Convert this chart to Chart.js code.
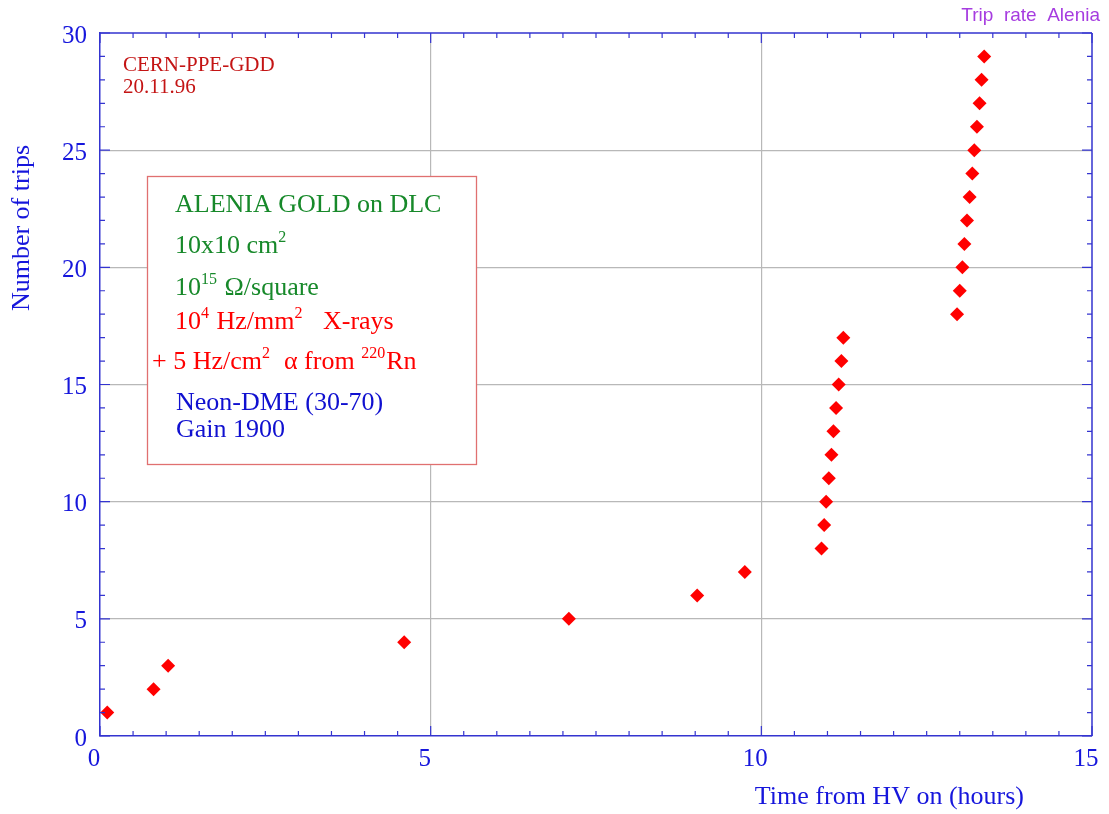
<!DOCTYPE html>
<html>
<head>
<meta charset="utf-8">
<script src="https://cdn.jsdelivr.net/npm/chart.js@4/dist/chart.umd.min.js"></script>
<style>
  html, body { margin: 0; padding: 0; background: #fff; }
  #wrap { width: 1109px; height: 814px; }
</style>
</head>
<body>
<div id="wrap"><canvas id="trips" width="1109" height="814"></canvas></div>
<script>
// time from HV on (hours) and cumulative number of trips
const horas = [0.11, 0.81, 1.03, 4.60, 7.09, 9.03, 9.75,
  10.91, 10.95, 10.98, 11.02, 11.06, 11.09, 11.13, 11.17, 11.21, 11.24,
  12.96, 13.00, 13.04, 13.07, 13.11, 13.15, 13.19, 13.22, 13.26, 13.30, 13.33, 13.37];
const disparos = [1, 2, 3, 4, 5, 6, 7,
  8, 9, 10, 11, 12, 13, 14, 15, 16, 17,
  18, 19, 20, 21, 22, 23, 24, 25, 26, 27, 28, 29];

const ticksX = [0, 5, 10, 15];
const ticksY = [0, 5, 10, 15, 20, 25, 30];

const serif = "'Liberation Serif', 'Times New Roman', serif";
const azul = '#1616dc';
const ejeColor = '#3434d0';
const gris = '#b8b8b8';

// text lines of the info box: [text, superscript?]
const lineasCaja = [
  { x: 175, y: 212, color: '#17892a', partes: [['ALENIA GOLD on DLC', false]] },
  { x: 175, y: 253, color: '#17892a', partes: [['10x10 cm', false], ['2', true]] },
  { x: 175, y: 295, color: '#17892a', partes: [['10', false], ['15', true], [' \u03A9/square', false]] },
  { x: 175, y: 329, color: '#ff0000', partes: [['10', false], ['4', true], [' Hz/mm', false], ['2', true], ['   X-rays', false]] },
  { x: 152, y: 369, color: '#ff0000', partes: [['+ 5 Hz/cm', false], ['2', true], ['  \u03B1 from ', false], ['220', true], ['Rn', false]] },
  { x: 176, y: 410, color: '#1010d0', partes: [['Neon-DME (30-70)', false]] },
  { x: 176, y: 437, color: '#1010d0', partes: [['Gain 1900', false]] }
];

const dibujarLinea = (ctx, linea) => {
  let x = linea.x;
  ctx.fillStyle = linea.color;
  ctx.textBaseline = 'alphabetic';
  ctx.textAlign = 'left';
  linea.partes.forEach(([texto, sup]) => {
    ctx.font = sup ? `16px ${serif}` : `26px ${serif}`;
    ctx.fillText(texto, x, sup ? linea.y - 11 : linea.y);
    x += ctx.measureText(texto).width + (sup ? 1 : 0);
  });
};

const marcoPlugin = {
  id: 'marco',
  afterDraw(chart) {
    const { ctx, chartArea: a, scales } = chart;
    ctx.save();
    ctx.strokeStyle = ejeColor;
    ctx.lineWidth = 1.5;
    ctx.beginPath();
    ctx.moveTo(a.left, a.top); ctx.lineTo(a.right, a.top);
    ctx.moveTo(a.right, a.top); ctx.lineTo(a.right, a.bottom);
    ctx.stroke();

    // inward ticks on the four sides
    ctx.lineWidth = 1.2;
    ctx.beginPath();
    for (let v = 0; v <= 15.001; v += 0.5) {
      const px = scales.x.getPixelForValue(v);
      const len = Math.abs(v % 5) < 0.01 ? 10 : 5;
      ctx.moveTo(px, a.bottom); ctx.lineTo(px, a.bottom - len);
      ctx.moveTo(px, a.top); ctx.lineTo(px, a.top + len);
    }
    for (let v = 0; v <= 30; v += 1) {
      const py = scales.y.getPixelForValue(v);
      const len = v % 5 === 0 ? 10 : 5;
      ctx.moveTo(a.left, py); ctx.lineTo(a.left + len, py);
      ctx.moveTo(a.right, py); ctx.lineTo(a.right - len, py);
    }
    ctx.stroke();

    // axis titles
    ctx.fillStyle = azul;
    ctx.font = `26px ${serif}`;
    ctx.textAlign = 'right';
    ctx.textBaseline = 'middle';
    ctx.fillText('Time from HV on (hours)', 1024, 797);
    ctx.save();
    ctx.translate(22, 145);
    ctx.rotate(-Math.PI / 2);
    ctx.textAlign = 'right';
    ctx.fillText('Number of trips', 0, 0);
    ctx.restore();

    // header texts
    ctx.fillStyle = '#a63ce0';
    ctx.font = "19px 'Liberation Sans', Arial, sans-serif";
    ctx.textAlign = 'right';
    ctx.fillText('Trip  rate  Alenia', 1100, 16);

    ctx.fillStyle = '#c41414';
    ctx.font = `21px ${serif}`;
    ctx.textAlign = 'left';
    ctx.textBaseline = 'alphabetic';
    ctx.fillText('CERN-PPE-GDD', 123, 71);
    ctx.fillText('20.11.96', 123, 93);

    // info box
    ctx.fillStyle = '#ffffff';
    ctx.fillRect(147, 176, 329, 288);
    ctx.strokeStyle = '#e07070';
    ctx.lineWidth = 1.3;
    ctx.strokeRect(147.5, 176.5, 329, 288);
    lineasCaja.forEach((l) => dibujarLinea(ctx, l));
    ctx.restore();
  }
};

const ctxTrips = document.getElementById('trips');

new Chart(ctxTrips, {
  type: 'scatter',
  data: {
    datasets: [{
      label: 'Trips',
      data: horas.map((h, i) => ({ x: h, y: disparos[i] })),
      pointStyle: 'rectRot',
      pointRadius: 7,
      pointHoverRadius: 7,
      backgroundColor: '#ff0000',
      borderColor: '#ff0000',
      borderWidth: 0
    }]
  },
  options: {
    responsive: false,
    animation: false,
    layout: { padding: { top: 33, right: 17, left: 0, bottom: 0 } },
    plugins: {
      legend: { display: false },
      tooltip: { enabled: false }
    },
    scales: {
      x: {
        type: 'linear',
        min: 0,
        max: 15,
        afterFit: (s) => { s.height = 78; s.paddingLeft = 0; s.paddingRight = 0; },
        afterBuildTicks: (s) => { s.ticks = ticksX.map((v) => ({ value: v })); },
        ticks: {
          color: azul,
          font: { size: 25, family: serif },
          padding: 8,
          labelOffset: -6,
          maxRotation: 0
        },
        grid: {
          drawTicks: false,
          color: (c) => (c.tick && (c.tick.value === 0 || c.tick.value === 15) ? 'rgba(0,0,0,0)' : gris),
          lineWidth: 1.2
        },
        border: { color: ejeColor, width: 1.5 }
      },
      y: {
        type: 'linear',
        min: 0,
        max: 30,
        afterFit: (s) => { s.width = 100; s.paddingTop = 0; s.paddingBottom = 0; },
        afterBuildTicks: (s) => { s.ticks = ticksY.map((v) => ({ value: v })); },
        ticks: {
          color: azul,
          font: { size: 25, family: serif },
          padding: 13,
          labelOffset: 3
        },
        grid: {
          drawTicks: false,
          color: (c) => (c.tick && (c.tick.value === 0 || c.tick.value === 30) ? 'rgba(0,0,0,0)' : gris),
          lineWidth: 1.2
        },
        border: { color: ejeColor, width: 1.5 }
      }
    }
  },
  plugins: [marcoPlugin]
});
</script>
</body>
</html>
